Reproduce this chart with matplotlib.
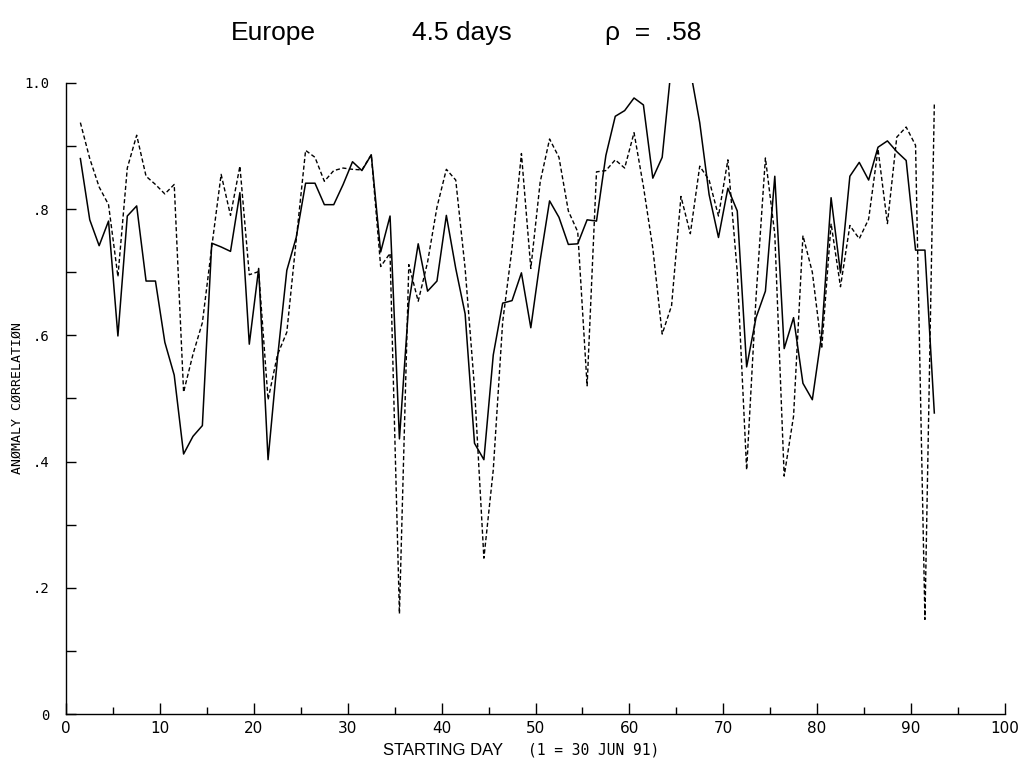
import numpy as np
import matplotlib
matplotlib.use("Agg")
import matplotlib.pyplot as plt
from matplotlib.ticker import MultipleLocator, FixedLocator

# forecast index, one per day; points sit half a day left of the index
days = np.arange(2, 94) - 0.5

# solid curve
solid = [0.880, 0.783, 0.742, 0.781, 0.599, 0.789, 0.805, 0.686, 0.686, 0.589,
         0.537, 0.412, 0.440, 0.457, 0.746, 0.740, 0.733, 0.826, 0.586, 0.706,
         0.403, 0.563, 0.703, 0.755, 0.841, 0.841, 0.807, 0.807, 0.839, 0.875,
         0.861, 0.886, 0.732, 0.789, 0.436, 0.651, 0.745, 0.670, 0.686, 0.790,
         0.706, 0.634, 0.429, 0.403, 0.569, 0.651, 0.655, 0.699, 0.612, 0.719,
         0.813, 0.787, 0.744, 0.745, 0.783, 0.781, 0.885, 0.947, 0.956, 0.976,
         0.965, 0.849, 0.882, 1.030, 1.070, 1.020, 0.937, 0.823, 0.755, 0.833,
         0.797, 0.550, 0.628, 0.670, 0.852, 0.579, 0.628, 0.524, 0.498, 0.602,
         0.818, 0.699, 0.852, 0.874, 0.846, 0.898, 0.908, 0.891, 0.877, 0.735,
         0.735, 0.477]

# dashed curve
dashed = [0.937, 0.880, 0.835, 0.807, 0.693, 0.865, 0.917, 0.852, 0.839, 0.824,
          0.839, 0.510, 0.570, 0.620, 0.740, 0.855, 0.790, 0.868, 0.696, 0.701,
          0.498, 0.569, 0.605, 0.751, 0.893, 0.882, 0.844, 0.861, 0.865, 0.863,
          0.862, 0.886, 0.709, 0.730, 0.159, 0.712, 0.654, 0.716, 0.803, 0.863,
          0.846, 0.706, 0.517, 0.247, 0.387, 0.621, 0.738, 0.888, 0.706, 0.843,
          0.911, 0.882, 0.797, 0.764, 0.520, 0.859, 0.861, 0.878, 0.865, 0.921,
          0.836, 0.738, 0.602, 0.647, 0.820, 0.761, 0.868, 0.846, 0.789, 0.878,
          0.700, 0.387, 0.660, 0.881, 0.760, 0.377, 0.472, 0.758, 0.700, 0.579,
          0.777, 0.677, 0.774, 0.753, 0.784, 0.895, 0.777, 0.914, 0.930, 0.901,
          0.150, 0.966]

ytick_vals = [0, 0.2, 0.4, 0.6, 0.8, 1.0]
ytick_text = ["0", ".2", ".4", ".6", ".8", "1.0"]

fig = plt.figure(figsize=(10.2, 7.67), dpi=100)
ax = fig.add_axes([0.065, 0.069, 0.920, 0.823])

ax.plot(days, solid, color="black", lw=1.1)
ax.plot(days, dashed, color="black", lw=1.0, linestyle=(0, (3.0, 1.8)))

ax.set_xlim(0, 100)
ax.set_ylim(0, 1.0)
ax.spines["top"].set_visible(False)
ax.spines["right"].set_visible(False)
for s in ("left", "bottom"):
    ax.spines[s].set_linewidth(1.0)

ax.xaxis.set_major_locator(MultipleLocator(10))
ax.xaxis.set_minor_locator(MultipleLocator(5))
ax.yaxis.set_major_locator(FixedLocator(ytick_vals))
ax.yaxis.set_minor_locator(MultipleLocator(0.1))
ax.set_yticklabels(ytick_text)

ax.tick_params(axis="x", which="major", direction="in", length=8, width=1, labelsize=11, pad=5)
ax.tick_params(axis="x", which="minor", direction="in", length=5, width=1)
ax.tick_params(axis="y", which="both", direction="in", length=7, width=1, labelsize=10, pad=12)
for lab in ax.get_yticklabels():
    lab.set_family("DejaVu Sans Mono")

ax.set_ylabel("ANØMALY CØRRELATIØN", family="DejaVu Sans Mono", fontsize=9.5)
ax.yaxis.set_label_coords(-0.045, 0.5)

# x label in two sizes
fig.text(0.434, 0.022, "STARTING DAY", ha="center", va="center",
         family="Liberation Sans", fontsize=12)
fig.text(0.582, 0.022, "(1 = 30 JUN 91)", ha="center", va="center",
         family="DejaVu Sans Mono", fontsize=10.5)

# title pieces
for xpos, txt in [(0.268, "Europe"), (0.453, "4.5 days"), (0.640, "ρ  =  .58")]:
    fig.text(xpos, 0.957, txt, ha="center", va="center",
             family="Liberation Sans", fontsize=19)

fig.savefig("out.png", dpi=100)
